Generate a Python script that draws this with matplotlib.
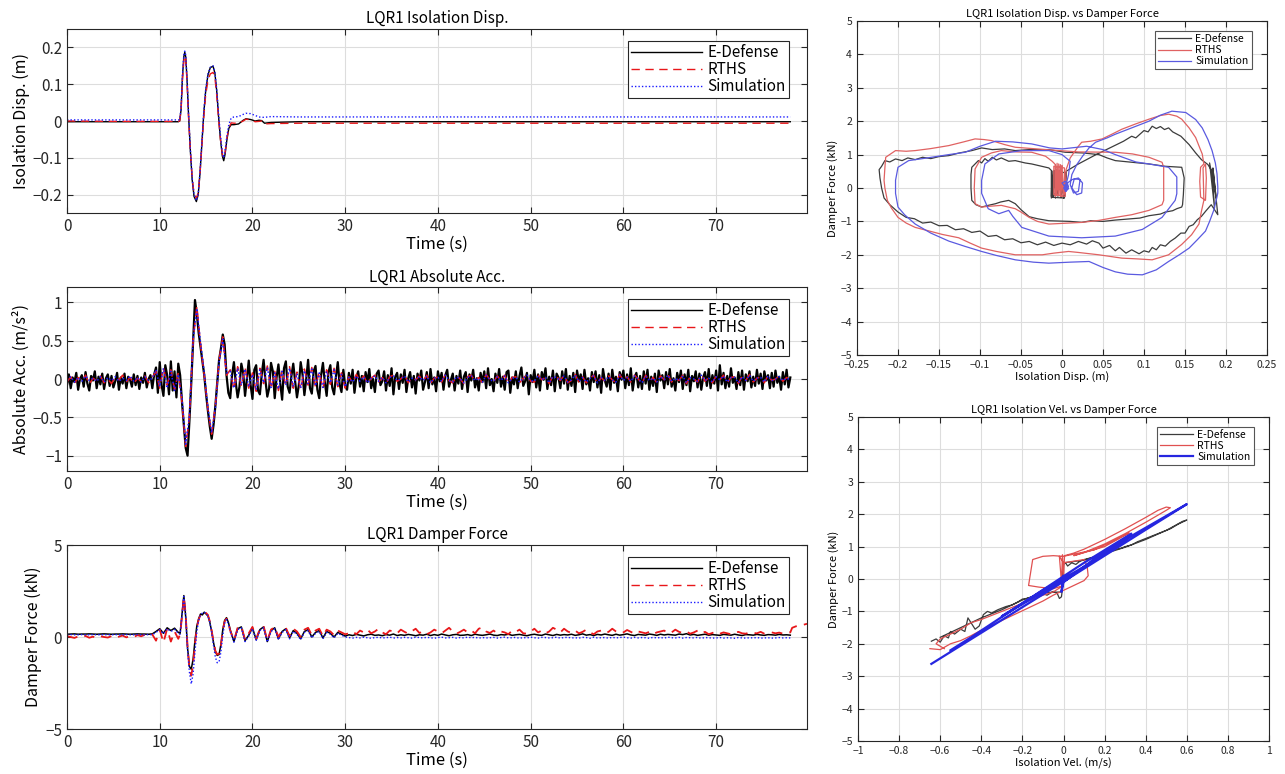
import matplotlib
matplotlib.use("Agg")
import matplotlib.pyplot as plt
import numpy as np

plt.rcParams['font.family'] = ['Noto Sans CJK JP', 'DejaVu Sans']

labels = ["E-Defense", "RTHS", "Simulation"]

# ---------------- Isolation displacement (m), points read from the record
disp_t = [0, 5, 12.0, 12.15, 12.3, 12.45, 12.6, 12.7, 12.8, 12.95,
          13.1, 13.3, 13.5, 13.7, 13.95, 14.15, 14.35, 14.55, 14.75, 14.95,
          15.2, 15.45, 15.75, 15.95, 16.15, 16.35, 16.55, 16.75, 16.9, 17.05,
          17.25, 17.45, 17.7, 18.0, 18.5, 19.0, 19.3, 19.8, 20.3, 20.7,
          21.0, 21.3, 22.0, 25.0, 30, 40, 50, 60, 70, 78]
disp_edef = [-0.002, -0.002, -0.002, 0.0, 0.03, 0.12, 0.175, 0.187, 0.175, 0.11,
             0.02, -0.08, -0.16, -0.205, -0.219, -0.2, -0.14, -0.06, 0.02, 0.08,
             0.125, 0.145, 0.149, 0.13, 0.08, 0.01, -0.05, -0.095, -0.108, -0.09,
             -0.05, -0.02, -0.01, -0.01, -0.008, 0.002, 0.006, 0.004, 0.0, 0.002,
             0.001, -0.006, -0.004, -0.002, -0.002, -0.002, -0.002, -0.002, -0.002, -0.002]
disp_rths = [0.0, -0.001, -0.001, 0.0, 0.028, 0.11, 0.165, 0.178, 0.168, 0.105,
             0.015, -0.08, -0.155, -0.198, -0.21, -0.195, -0.14, -0.065, 0.01, 0.07,
             0.11, 0.128, 0.132, 0.118, 0.07, 0.005, -0.05, -0.09, -0.1, -0.085,
             -0.045, -0.02, -0.005, -0.006, -0.006, 0.0, 0.005, 0.003, -0.002, -0.001,
             0.0, -0.008, -0.007, -0.006, -0.006, -0.006, -0.006, -0.006, -0.006, -0.006]
disp_sim = [0.003, 0.003, 0.003, 0.004, 0.035, 0.125, 0.18, 0.19, 0.18, 0.115,
            0.025, -0.075, -0.155, -0.2, -0.216, -0.198, -0.135, -0.055, 0.025, 0.085,
            0.128, 0.146, 0.15, 0.132, 0.085, 0.018, -0.04, -0.085, -0.1, -0.08,
            -0.04, -0.01, 0.008, 0.011, 0.012, 0.018, 0.021, 0.02, 0.015, 0.011,
            0.01, 0.01, 0.012, 0.011, 0.011, 0.011, 0.011, 0.011, 0.011, 0.011]

# ---------------- Absolute acceleration (x0.01 m/s2), read per segment
# E-Defense, dt = 0.2 s
acc_edef_pre = [-8, 6, -12, 2, -4, 8, -14, 0, 5, -10, 9, -6, -15, 4, -2, 10, -12, 3, -7, 7,
                -13, 1, 6, -9, 4, -11, -3, 8, -14, 2, -6, 7, -12, 3, -1, -10, 6, -8, 4, -13,
                2, -5, 8, -11, 0, 5, -12, 6, 15, -18, 22, -8, -22, 18, 5, -20, 23, -15, 10, -24,
                20, 5]
acc_edef_pulse = [-30, -60, -90, -100, -55, -5, 50, 103, 85, 60, 42, 25, 5, -20, -42, -62,
                  -78, -60, -35, -5, 25, 40, 58, 45, 5, -18]
acc_edef_mid = [-25, 5, 22, -5, -24, -10, 20, 8, -22, 0, 24, -8, -26, 12, 18, -15, -20, 6, 25, -2,
                -23, -12, 21, 10, -25, 2, 19, -6, -27, 14, 23, -10, -18, 4, 20, -3, -24, -8, 22, 6,
                -21, 0, 25, -12, -19, 10, 17, -14, -25, 5, 21, -4, -22, 9, 18, -11, -20, 3, 22, -7,
                -17, 12, -9]
acc_edef_post = [-14, 8, -6, 12, -18, 2, 10, -10, 4, -16, 9, -4, 13, -12, 0, -17, 7, 11, -8, -3,
                 10, -15, 5, -9, 14, -20, 3, 8, -13, 6, -5, 12, -17, 1, 9, -11, 4, -19, 7, -2,
                 11, -14, -4, 9, -12, 13, -7, 2, -16, 10, -3, 8, -14, 5, 12, -10, -1, 7, -15, 4,
                 -6, 11, -13, 3, 9, -17, 6, -2, 12, -11, 1, -15, 8, -4, 10, -12, 14, -8, 0, -16,
                 7, -5, 13, -10, 3, -14, 9, 11, -18, 2, -7, 10, -12, 4, 15, -9, -3, 8, -20, 5,
                 -4, 12, -11, 6, -15, 9, -1, 14, -13, 3, -8, 11, -16, 7, 2, -12, 10, -6, 13, -14,
                 4, -9, 8, -17, 11, -3, 6, -13, 12, -7, 1, -15, 9, -4, 10, -11, 5, -18, 13, -2,
                 -10, 7, -14, 12, -5, 3, -16, 9, -1, 11, -12, 6, -8, 14, -15, 2, 8, -11, 4, -13,
                 10, -6, 12, -14, 3, -9, 7, -17, 11, -2, 5, -12, 9, -7, 13, -10, 1, -15, 8, -4,
                 11, -13, 6, -8, 12, -16, 4, -3, 10, -11, 7, -14, 2, 9, -9, 13, -12, 5, -6, 11,
                 -15, 18, -7, 8, -12, 4, -10, 14, -5, 2, -13, 9, -8, 11, -14, 6, -3, 10, -11, 3,
                 -9, 12, -6, 7, -13, 10, -2, 5, -12, 8, -10, 11, -5, 3, -14, 9, -7, 12, -11, 2]
# RTHS and Simulation, dt = 0.4 s
acc_rths_pre = [-4, 3, -6, 2, -3, 5, -7, 1, -2, 4, -5, 0, -6, 3, -1, 5, -4, 2, -6, 1,
                -3, 4, -5, 2, 10, -12, 15, -8, 12, -14, 8]
acc_rths_pulse = [-30, -88, -50, 50, 95, 45, 5, -40, -72, -35, 25, 55, 5]
acc_rths_mid = [12, -14, 16, -10, 15, -12, 8, -16, 14, -6, 17, -13, 10, -15, 12, -9,
                16, -12, 9, -14, 13, -8, 15, -11, 10, -13, 12, -7, 14, -10, 8, -12]
acc_rths_post = [3, -5, 6, -2, 4, -6, 1, 5, -4, 2, -6, 3, 5, -3, 0, 6, -5, 2, -1, 4,
                 -3, 5, -6, 1, 3, -4, 6, -2, -5, 4, 0, -6, 3, 5, -3, 2, -5, 6, -1, -4,
                 4, -2, 5, -6, 2, 3, -5, 1, 6, -3, -4, 5, -1, 2, -6, 4, 3, -2, 5, -5,
                 -2, 6, -4, 3, -5, 1, 5, -6, 2, -3, 4, -1, -5, 6, -2, 3, -4, 5, 0, -6,
                 5, -3, 2, -5, 4, -1, 6, -4, 1, -2, 5, -6, 3, 0, -4, 6, -3, 2, -5, 4,
                 -1, 5, -5, 2, 3, -6, 4, -2, 6, -4, 1, 3, -5, 5, -2, 0, 4, -3, 2, -1]
acc_sim_pre = [-2, 3, -4, 2, -3, 4, -2, 1, -3, 3, -4, 2, -2, 3, -3, 1, -2, 4, -3, 2,
               -4, 3, -2, 1, 12, -10, 14, -12, 10, -15, 6]
acc_sim_pulse = [-25, -85, -48, 52, 92, 48, 8, -38, -70, -38, 22, 52, 8]
acc_sim_mid = [10, -12, 14, -8, 13, -10, 6, -14, 12, -5, 15, -11, 8, -13, 10, -8,
               14, -10, 7, -12, 11, -6, 13, -9, 8, -11, 10, -5, 12, -8, 6, -10]
acc_sim_post = [2, -4, 4, -3, 3, -5, 1, 4, -3, 2, -5, 2, 4, -2, 0, 4, -4, 1, -1, 3,
                -2, 4, -5, 1, 2, -3, 5, -2, -4, 3, 0, -5, 2, 4, -2, 1, -4, 5, -1, -3,
                3, -2, 4, -5, 1, 2, -4, 1, 5, -2, -3, 4, -1, 2, -5, 3, 2, -2, 4, -4,
                -1, 5, -3, 2, -4, 1, 4, -5, 2, -2, 3, -1, -4, 5, -2, 2, -3, 4, 0, -5,
                4, -2, 1, -4, 3, -1, 5, -3, 1, -2, 4, -5, 2, 0, -3, 5, -2, 1, -4, 3,
                -1, 4, -4, 2, 2, -5, 3, -2, 5, -3, 1, 2, -4, 4, -2, 0, 3, -2, 1, -1]

# ---------------- Damper force (x0.01 kN), read per segment
df_edef_pre = [15, 16, 17, 15, 16, 16, 17, 16, 15, 16, 17, 16, 15, 16, 16, 17, 16, 15, 16, 17,
               16, 16, 15, 17, 30, 45, 20, 50, 35, 48, 25]
df_edef_pulse = [20, 120, 225, 110, -60, -160, -175, -120, -20, 60, 100, 125, 120, 135,
                 125, 115, 80, 30, -30, -80, -100, -95, -40, 40, 90, 105, 80, 40]
df_edef_mid = [-25, 45, 55, -20, 10, 50, -15, 40, 55, -25, 35, 50, -10, 30, 45, -5,
               35, 20, -10, 30, 40, 0, 25, 35, -5, 30, 20, 0, 25, 15, 5]
df_edef_post = [12, 8, 14, 10, 6, 12, 15, 9, 11, 7, 13, 10, 16, 8, 12, 9, 14, 11, 7, 12,
                10, 15, 8, 13, 9, 16, 11, 7, 12, 14, 9, 10, 13, 8, 15, 11, 9, 12, 16, 10,
                8, 13, 11, 15, 9, 12, 14, 10, 7, 12, 15, 11, 9, 16, 12, 8, 14, 10, 13, 11,
                15, 9, 12, 17, 10, 13, 8, 14, 11, 16, 12, 9, 15, 10, 13, 17, 11, 8, 14, 12,
                10, 16, 13, 9, 15, 11, 14, 12, 10, 16, 13, 18, 11, 14, 9, 12, 15, 10, 13, 11,
                9, 14, 12, 10, 15, 11, 8, 13, 12, 10, 14, 11, 9, 13, 12, 10, 14, 11, 12, 10]
df_rths_pre = [5, 0, -5, 3, -2, 6, -4, 2, -6, 4, 0, -3, 5, -5, 2, 8, -2, 6, 0, 10,
               4, 12, 6, 14, -20, 40, -30, 45, -25, 30, -10]
df_rths_pulse = [15, 110, 220, 120, -50, -170, -210, -150, -40, 50, 95, 120, 130, 140,
                 130, 120, 85, 35, -25, -75, -95, -90, -45, 35, 85, 100, 75, 35]
df_rths_mid = [-20, 50, 60, -15, 20, 55, -10, 45, 60, -20, 40, 55, 0, 35, 50, 5,
               45, 30, 0, 40, 50, 10, 35, 45, 5, 40, 30, 10, 35, 25, 15]
df_rths_post = [20, 30, 15, 35, 25, 40, 20, 30, 45, 25, 15, 35, 30, 20, 40, 28, 18, 32, 45, 22,
                30, 15, 25, 40, 30, 20, 35, 50, 30, 18, 28, 40, 25, 35, 20, 45, 52, 30, 22, 35,
                20, 30, 25, 15, 35, 28, 40, 20, 18, 30, 45, 25, 35, 20, 30, 50, 40, 25, 45, 30,
                22, 35, 20, 28, 40, 25, 15, 30, 35, 22, 28, 45, 30, 20, 25, 38, 28, 18, 30, 25,
                20, 28, 15, 25, 30, 35, 20, 25, 40, 28, 22, 30, 18, 25, 35, 20, 28, 15, 22, 30,
                18, 25, 20, 15, 22, 28, 20, 18, 25, 22, 20, 28, 18, 22, 25, 20, 24, 18, 22, 25]
df_rths_end = [50, 58, 62, 66, 72]
df_sim_pre = [12, 13, 12, 12, 13, 12, 12, 13, 12, 12, 13, 12, 12, 13, 12, 12, 13, 12, 12, 13,
              12, 12, 13, 12, 25, 40, 18, 45, 30, 42, 20]
df_sim_pulse = [15, 115, 220, 115, -70, -190, -255, -200, -80, 30, 90, 120, 130, 135,
                128, 115, 80, 25, -45, -110, -140, -135, -80, 10, 75, 95, 70, 30]
df_sim_mid = [-28, 40, 50, -25, 5, 45, -18, 35, 50, -28, 30, 45, -15, 25, 40, -10,
              30, 15, -15, 25, 35, -5, 20, 30, -10, 25, 15, -5, 20, 10, 0]
df_sim_post = [-3, -6, -2, -5, -1, -4, -7, -3, -2, -5, -4, -1, -6, -3, -5, -2, -4, -6, -1, -3,
               -5, -2, -4, -7, -3, -1, -5, -4, -2, -6, -3, -5, -1, -4, -2, -6, -3, -5, -4, -2,
               -6, -3, -1, -5, -4, -2, -7, -3, -5, -1, -4, -6, -2, -3, -5, -4, -1, -6, -3, -2,
               -5, -4, -6, -2, -3, -7, -1, -5, -4, -3, -6, -2, -5, -3, -1, -4, -6, -2, -5, -3,
               -4, -7, -2, -5, -3, -6, -1, -4, -5, -2, -6, -3, -4, -5, -2, -7, -3, -4, -6, -5,
               -3, -6, -4, -5, -7, -3, -5, -6, -4, -5, -3, -6, -5, -4, -6, -5, -3, -5, -4, -5]

# ---------------- Hysteresis loops (disp m, force kN)
loop_disp_edef = [
    (-0.002, 0.0), (-0.013, -0.3), (-0.013, 0.5), (-0.011, -0.28), (-0.009, 0.52), (-0.008, -0.3),
    (-0.007, 0.55), (-0.005, -0.25), (-0.003, 0.52), (-0.001, -0.28), (0.0, 0.5), (0.002, -0.3),
    (0.004, -0.2), (0.005, 0.45), (-0.01, 0.52), (-0.012, -0.28), (0.003, -0.3), (0.005, 0.5),
    (0.02, 0.72), (0.04, 0.98), (0.06, 1.22), (0.075, 1.4), (0.085, 1.55), (0.09, 1.5), (0.1, 1.72),
    (0.105, 1.68), (0.11, 1.85), (0.115, 1.78), (0.12, 1.84), (0.125, 1.75), (0.13, 1.8),
    (0.135, 1.68), (0.145, 1.55), (0.155, 1.3), (0.163, 1.05), (0.17, 0.85), (0.178, 0.7),
    (0.183, 0.5), (0.186, -0.6), (0.18, 0.75), (0.188, -0.3), (0.184, 0.6), (0.19, -0.8),
    (0.182, -0.5), (0.175, -0.7), (0.17, -0.85), (0.165, -0.95), (0.16, -1.1), (0.155, -1.15),
    (0.15, -1.35), (0.145, -1.35), (0.138, -1.5), (0.132, -1.6), (0.126, -1.74), (0.12, -1.7),
    (0.115, -1.85), (0.11, -1.78), (0.106, -1.92), (0.1, -1.88), (0.094, -1.97), (0.085, -1.85),
    (0.078, -1.95), (0.07, -1.78), (0.065, -1.88), (0.058, -1.72), (0.05, -1.8), (0.045, -1.65),
    (0.037, -1.58), (0.03, -1.68), (0.02, -1.6), (0.01, -1.7), (0.0, -1.65), (-0.01, -1.72),
    (-0.02, -1.62), (-0.03, -1.7), (-0.04, -1.6), (-0.05, -1.64), (-0.06, -1.52), (-0.07, -1.55),
    (-0.08, -1.42), (-0.09, -1.45), (-0.1, -1.29), (-0.11, -1.33), (-0.12, -1.22), (-0.13, -1.25),
    (-0.14, -1.12), (-0.15, -1.13), (-0.16, -1.02), (-0.17, -1.05), (-0.18, -0.92), (-0.19, -0.88),
    (-0.2, -0.72), (-0.21, -0.5), (-0.217, -0.3), (-0.22, 0.0), (-0.222, 0.3), (-0.223, 0.55),
    (-0.22, 0.65), (-0.216, 0.82), (-0.21, 0.78), (-0.203, 0.87), (-0.195, 0.82), (-0.188, 0.9),
    (-0.179, 0.85), (-0.17, 0.92), (-0.16, 0.88), (-0.15, 0.94), (-0.138, 0.97), (-0.125, 1.05),
    (-0.11, 1.12), (-0.098, 1.2), (-0.085, 1.15), (-0.07, 1.17), (-0.057, 1.12), (-0.04, 1.15),
    (-0.016, 1.15), (0.004, 1.07), (0.025, 1.05), (0.045, 1.0), (0.055, 0.9), (0.065, 0.82),
    (0.085, 0.77), (0.106, 0.72), (0.126, 0.65), (0.146, 0.62), (0.149, 0.3), (0.148, -0.2),
    (0.147, -0.5), (0.146, -0.57), (0.14, -0.62), (0.135, -0.68), (0.126, -0.72), (0.12, -0.78),
    (0.106, -0.83), (0.095, -0.9), (0.08, -0.93), (0.065, -0.96), (0.05, -1.0), (0.035, -0.98),
    (0.024, -1.03), (0.01, -1.0), (-0.016, -0.98), (-0.03, -0.92), (-0.04, -0.86), (-0.05, -0.65),
    (-0.057, -0.47), (-0.065, -0.37), (-0.075, -0.42), (-0.081, -0.47), (-0.09, -0.52),
    (-0.098, -0.57), (-0.105, -0.5), (-0.11, -0.37), (-0.111, 0.0), (-0.111, 0.4), (-0.11, 0.62),
    (-0.106, 0.72), (-0.102, 0.82), (-0.098, 0.75), (-0.094, 0.88), (-0.09, 0.8), (-0.085, 0.92),
    (-0.08, 0.84), (-0.074, 0.9), (-0.065, 0.8), (-0.057, 0.82), (-0.045, 0.75), (-0.037, 0.72),
    (-0.025, 0.65), (-0.016, 0.6), (-0.012, 0.5), (-0.013, -0.25), (-0.005, 0.5), (0.002, -0.2),
    (0.004, 0.4)]
loop_disp_rths = [
    (-0.008, -0.25), (-0.008, 0.7), (-0.006, -0.22), (-0.006, 0.74), (-0.004, -0.2),
    (-0.004, 0.72), (-0.002, -0.25), (-0.002, 0.7), (0.0, -0.25), (0.0, 0.68), (0.002, -0.2),
    (0.003, -0.15), (0.003, 0.6), (-0.01, 0.65), (-0.01, -0.2), (0.004, -0.25), (0.005, 0.55),
    (0.01, 0.9), (0.02, 1.25), (0.024, 1.37), (0.035, 1.4), (0.049, 1.47), (0.06, 1.6),
    (0.073, 1.76), (0.09, 1.92), (0.106, 2.06), (0.12, 2.17), (0.13, 2.21), (0.14, 2.15),
    (0.146, 2.06), (0.155, 1.8), (0.163, 1.51), (0.168, 1.2), (0.171, 1.02), (0.173, 0.72),
    (0.169, 0.62), (0.168, 0.2), (0.169, -0.27), (0.175, -0.37), (0.176, 0.3), (0.175, 0.72),
    (0.172, 0.6), (0.173, -0.37), (0.17, -0.7), (0.167, -1.08), (0.158, -1.4), (0.146, -1.69),
    (0.13, -2.0), (0.11, -2.15), (0.09, -2.12), (0.073, -2.1), (0.045, -2.0), (0.02, -1.93),
    (0.008, -1.9), (-0.01, -1.95), (-0.024, -2.0), (-0.057, -2.0), (-0.08, -1.9), (-0.098, -1.8),
    (-0.112, -1.65), (-0.126, -1.49), (-0.146, -1.39), (-0.16, -1.3), (-0.179, -1.18),
    (-0.19, -1.05), (-0.2, -0.88), (-0.208, -0.6), (-0.213, -0.37), (-0.216, 0.0), (-0.217, 0.23),
    (-0.216, 0.6), (-0.215, 0.92), (-0.203, 1.12), (-0.19, 1.1), (-0.179, 1.12), (-0.16, 1.18),
    (-0.138, 1.27), (-0.12, 1.38), (-0.106, 1.47), (-0.095, 1.45), (-0.086, 1.42), (-0.07, 1.3),
    (-0.057, 1.22), (-0.02, 1.15), (0.02, 1.08), (0.065, 1.07), (0.086, 1.02), (0.106, 0.92),
    (0.122, 0.77), (0.124, 0.62), (0.124, -0.37), (0.122, -0.5), (0.106, -0.67), (0.085, -0.8),
    (0.065, -0.88), (0.045, -0.97), (0.024, -1.03), (0.0, -1.06), (-0.016, -1.08), (-0.03, -1.0),
    (-0.04, -0.88), (-0.05, -0.72), (-0.057, -0.62), (-0.074, -0.52), (-0.09, -0.55),
    (-0.098, -0.57), (-0.106, -0.47), (-0.107, 0.0), (-0.106, 0.57), (-0.098, 0.92),
    (-0.086, 1.05), (-0.074, 1.12), (-0.055, 1.08), (-0.037, 1.07), (-0.02, 0.95), (-0.012, 0.8),
    (-0.008, 0.7), (-0.008, -0.2), (0.0, 0.65)]
loop_disp_sim = [
    (0.005, 0.0), (0.0, 0.15), (0.004, 0.2), (0.008, 0.05), (0.005, -0.1), (0.002, 0.0),
    (0.006, 0.1), (0.003, -0.05), (0.007, 0.12), (0.004, -0.1), (0.008, -0.02), (0.003, 0.08),
    (0.012, 0.25), (0.02, 0.3), (0.025, 0.15), (0.024, -0.15), (0.018, -0.2),
    (0.012, 0.0), (0.015, 0.28), (0.022, 0.25), (0.02, -0.1), (0.014, -0.15), (0.01, 0.1),
    (0.012, 0.4), (0.018, 0.7), (0.025, 0.95), (0.033, 1.2), (0.041, 1.37), (0.055, 1.5),
    (0.065, 1.61), (0.085, 1.8), (0.106, 2.0), (0.12, 2.18), (0.134, 2.3), (0.151, 2.26),
    (0.163, 2.05), (0.171, 1.8), (0.178, 1.45), (0.183, 1.12), (0.187, 0.75), (0.189, 0.43),
    (0.19, 0.03), (0.19, -0.15), (0.189, -0.27), (0.185, -0.67), (0.18, -1.0), (0.175, -1.29),
    (0.165, -1.55), (0.155, -1.8), (0.143, -2.0), (0.13, -2.2), (0.115, -2.45), (0.098, -2.6),
    (0.08, -2.58), (0.065, -2.51), (0.05, -2.38), (0.033, -2.2), (0.01, -2.22), (-0.016, -2.25),
    (-0.035, -2.22), (-0.057, -2.15), (-0.08, -2.02), (-0.098, -1.9), (-0.118, -1.75),
    (-0.138, -1.59), (-0.16, -1.35), (-0.179, -1.08), (-0.192, -0.8), (-0.2, -0.57),
    (-0.203, -0.16), (-0.203, 0.23), (-0.2, 0.62), (-0.187, 0.82), (-0.17, 0.88), (-0.159, 0.92),
    (-0.138, 1.0), (-0.118, 1.07), (-0.1, 1.25), (-0.081, 1.4), (-0.06, 1.38), (-0.037, 1.32),
    (-0.015, 1.2), (0.0, 1.17), (0.03, 1.25), (0.05, 1.15), (0.065, 1.0), (0.09, 0.78),
    (0.106, 0.72), (0.13, 0.62), (0.14, 0.33), (0.14, -0.17), (0.138, -0.37), (0.122, -0.88),
    (0.098, -1.24), (0.065, -1.44), (0.024, -1.49), (-0.016, -1.44), (-0.049, -1.18),
    (-0.06, -0.85), (-0.065, -0.67), (-0.077, -0.77), (-0.09, -0.62), (-0.098, -0.16),
    (-0.098, 0.23), (-0.094, 0.72), (-0.077, 1.02), (-0.049, 1.12), (-0.016, 1.12), (0.0, 1.0),
    (0.01, 0.8), (0.008, 0.4), (0.005, 0.1)]

# ---------------- Hysteresis loops (vel m/s, force kN)
loop_vel_edef = [
    (-0.643, -1.92), (-0.62, -1.85), (-0.6, -1.95), (-0.58, -1.75), (-0.56, -1.82), (-0.55, -1.62),
    (-0.53, -1.7), (-0.5, -1.55), (-0.48, -1.62), (-0.465, -1.2), (-0.45, -1.35), (-0.43, -1.55),
    (-0.41, -1.45), (-0.39, -1.1), (-0.37, -1.0), (-0.35, -1.05), (-0.32, -0.95), (-0.3, -0.9),
    (-0.28, -0.85), (-0.25, -0.8), (-0.22, -0.7), (-0.2, -0.62), (-0.18, -0.6), (-0.15, -0.55),
    (-0.12, -0.5), (-0.1, -0.45), (-0.08, -0.5), (-0.05, -0.38), (-0.03, -0.45), (-0.02, -0.6),
    (-0.01, -0.55), (-0.005, -0.3), (-0.003, 0.2), (0.0, 0.45), (0.01, 0.5), (0.02, 0.4),
    (0.04, 0.5), (0.06, 0.45), (0.08, 0.55), (0.1, 0.6), (0.13, 0.65), (0.16, 0.7), (0.2, 0.8),
    (0.24, 0.9), (0.28, 0.95), (0.3, 1.0), (0.33, 1.05), (0.36, 1.15), (0.4, 1.25), (0.44, 1.35),
    (0.48, 1.45), (0.52, 1.55), (0.56, 1.7), (0.6, 1.82), (0.58, 1.78), (0.5, 1.5), (0.4, 1.22),
    (0.3, 0.98), (0.2, 0.78), (0.1, 0.58), (0.0, 0.5), (-0.01, -0.4), (-0.1, -0.42),
    (-0.2, -0.65), (-0.3, -0.95), (-0.4, -1.2), (-0.5, -1.5), (-0.6, -1.8)]
loop_vel_rths = [
    (-0.65, -2.15), (-0.6, -2.18), (-0.55, -2.0), (-0.5, -1.9), (-0.45, -1.75), (-0.4, -1.58),
    (-0.3, -1.28), (-0.2, -0.98), (-0.1, -0.68), (-0.05, -0.5), (0.0, -0.35), (0.05, -0.2),
    (0.1, -0.05), (0.12, 0.1), (0.115, 0.4), (0.1, 0.6), (0.05, 0.55), (0.0, 0.5), (-0.02, 0.7),
    (-0.01, -0.1), (-0.005, 0.75), (0.0, 0.0), (0.005, 0.72), (0.05, 0.8), (0.1, 0.92),
    (0.2, 1.22), (0.3, 1.55), (0.4, 1.9), (0.46, 2.12), (0.5, 2.22), (0.52, 2.2), (0.5, 2.12),
    (0.4, 1.75), (0.3, 1.4), (0.2, 1.08), (0.1, 0.82), (0.05, 0.72), (0.2, 1.0), (0.3, 1.35),
    (0.32, 1.42), (0.25, 1.2), (0.15, 0.9), (0.0, 0.7), (-0.05, 0.72), (-0.1, 0.7), (-0.15, 0.6),
    (-0.17, -0.2), (-0.12, -0.25), (-0.05, -0.3), (0.0, -0.2), (-0.05, -0.4), (-0.1, -0.5),
    (-0.2, -0.75), (-0.3, -1.0), (-0.4, -1.25), (-0.45, -1.35), (-0.5, -1.55), (-0.55, -1.7),
    (-0.6, -1.85), (-0.62, -2.0), (-0.58, -2.15)]
loop_vel_sim = [
    (-0.643, -2.62), (-0.4, -1.66), (-0.2, -0.87), (0.0, -0.08), (0.2, 0.72), (0.4, 1.52),
    (0.6, 2.31), (0.35, 1.4), (0.15, 0.62), (0.0, -0.1), (-0.01, -0.4), (0.0, 0.1), (0.02, 0.05),
    (-0.3, -1.15), (-0.1, -0.35), (0.1, 0.38), (0.3, 1.18), (0.33, 1.4), (0.1, 0.5), (-0.2, -0.75),
    (-0.45, -1.8), (-0.55, -2.2)]


def stitch(*segments):
    ts, vs = [], []
    for start, dt, vals in segments:
        ts.append(start + dt * np.arange(len(vals)))
        vs.append(np.array(vals) / 100.0)
    return np.concatenate(ts), np.concatenate(vs)


acc_series = [
    stitch((0.0, 0.2, acc_edef_pre), (12.4, 0.2, acc_edef_pulse),
           (17.6, 0.2, acc_edef_mid), (30.2, 0.2, acc_edef_post)),
    stitch((0.0, 0.4, acc_rths_pre), (12.4, 0.4, acc_rths_pulse),
           (17.6, 0.4, acc_rths_mid), (30.4, 0.4, acc_rths_post)),
    stitch((0.0, 0.4, acc_sim_pre), (12.4, 0.4, acc_sim_pulse),
           (17.6, 0.4, acc_sim_mid), (30.4, 0.4, acc_sim_post)),
]
df_series = [
    stitch((0.0, 0.4, df_edef_pre), (12.2, 0.2, df_edef_pulse),
           (18.0, 0.4, df_edef_mid), (30.4, 0.4, df_edef_post)),
    stitch((0.0, 0.4, df_rths_pre), (12.2, 0.2, df_rths_pulse),
           (18.0, 0.4, df_rths_mid), (30.4, 0.4, df_rths_post), (78.2, 0.4, df_rths_end)),
    stitch((0.0, 0.4, df_sim_pre), (12.2, 0.2, df_sim_pulse),
           (18.0, 0.4, df_sim_mid), (30.4, 0.4, df_sim_post)),
]
disp_series = [(np.array(disp_t), np.array(disp_edef)),
               (np.array(disp_t), np.array(disp_rths)),
               (np.array(disp_t), np.array(disp_sim))]

W, H = 1285, 774
fig = plt.figure(figsize=(W / 100, H / 100), dpi=100)


def px_axes(left, top, right, bottom):
    return fig.add_axes([left / W, 1 - bottom / H, (right - left) / W, (bottom - top) / H])


def matlab_style(ax, fs):
    ax.tick_params(direction='in', top=True, right=True, length=4, width=0.8,
                   labelsize=fs, colors='#262626')
    ax.grid(True, color='#dddddd', linewidth=0.8)
    ax.set_axisbelow(True)
    for s in ax.spines.values():
        s.set_color('#262626')
        s.set_linewidth(0.8)


left_styles = [dict(color='black', ls='-'),
               dict(color='#e8171a', ls=(0, (6, 4))),
               dict(color='#1a1aff', ls=(0, (1, 1.5)))]

panels = [
    (29, 213, disp_series, (-0.25, 0.25), [-0.2, -0.1, 0, 0.1, 0.2], ['−0.2', '−0.1', '0', '0.1', '0.2'],
     "LQR1 Isolation Disp.", "Isolation Disp. (m)", [1.0, 1.0, 1.0]),
    (287, 471, acc_series, (-1.2, 1.2), [-1, -0.5, 0, 0.5, 1], ['−1', '−0.5', '0', '0.5', '1'],
     "LQR1 Absolute Acc.", "Absolute Acc. (m/s²)", [1.6, 1.1, 1.1]),
    (545, 729, df_series, (-5, 5), [-5, 0, 5], ['−5', '0', '5'],
     "LQR1 Damper Force", "Damper Force (kN)", [1.1, 1.3, 1.0]),
]

for top, bottom, series, ylim, yt, ytl, title, ylabel, widths in panels:
    ax = px_axes(67, top, 807, bottom)
    matlab_style(ax, 11)
    for (t, v), st, lab, lw in zip(series, left_styles, labels, widths):
        ax.plot(t, v, label=lab, lw=lw, **st)
    ax.set_xlim(0, 79.8)
    ax.set_ylim(*ylim)
    ax.set_xticks([0, 10, 20, 30, 40, 50, 60, 70])
    ax.set_yticks(yt)
    ax.set_yticklabels(ytl)
    ax.set_title(title, fontsize=11, pad=4)
    ax.set_xlabel("Time (s)", fontsize=12, labelpad=1)
    ax.set_ylabel(ylabel, fontsize=11.5, labelpad=2)
    leg = ax.legend(loc='upper right', bbox_to_anchor=(0.9757, 0.935), fontsize=11,
                    handlelength=4.6, handletextpad=0.4, borderpad=0.2, labelspacing=0.0,
                    fancybox=False, framealpha=1, edgecolor='#262626', borderaxespad=0)
    leg.get_frame().set_linewidth(0.8)
    for line in leg.get_lines():
        line.set_linewidth(1.0)

right_colors = ['#3c3c3c', '#e06262', '#5a5ae0']

# Isolation disp vs damper force
ax4 = px_axes(857, 21, 1267, 355)
matlab_style(ax4, 7.5)
for loop, c, lab in zip([loop_disp_edef, loop_disp_rths, loop_disp_sim], right_colors, labels):
    p = np.array(loop)
    ax4.plot(p[:, 0], p[:, 1], color=c, lw=0.9, label=lab)
ax4.set_xlim(-0.25, 0.25)
ax4.set_ylim(-5, 5)
ax4.set_xticks(np.arange(-0.25, 0.26, 0.05))
ax4.set_xticklabels(['−0.25', '−0.2', '−0.15', '−0.1', '−0.05', '0', '0.05', '0.1', '0.15', '0.2', '0.25'])
ax4.set_yticks(range(-5, 6))
ax4.set_yticklabels(['−5', '−4', '−3', '−2', '−1', '0', '1', '2', '3', '4', '5'])
ax4.set_title("LQR1 Isolation Disp. vs Damper Force", fontsize=8, pad=3)
ax4.set_xlabel("Isolation Disp. (m)", fontsize=8, labelpad=1)
ax4.set_ylabel("Damper Force (kN)", fontsize=8, labelpad=2)
leg = ax4.legend(loc='upper right', bbox_to_anchor=(0.963, 0.97), fontsize=7.5,
                 handlelength=3.2, handletextpad=0.4, borderpad=0.3, labelspacing=0.1,
                 fancybox=False, framealpha=1, edgecolor='#555555', borderaxespad=0)
leg.get_frame().set_linewidth(0.8)

# Isolation vel vs damper force
ax5 = px_axes(858, 417, 1269, 741)
matlab_style(ax5, 7.5)
for loop, c, lab, lw in zip([loop_vel_edef, loop_vel_rths, loop_vel_sim],
                            ['#3c3c3c', '#e05050', '#2626e0'], labels, [0.9, 0.9, 1.6]):
    p = np.array(loop)
    ax5.plot(p[:, 0], p[:, 1], color=c, lw=lw, label=lab)
ax5.set_xlim(-1, 1)
ax5.set_ylim(-5, 5)
ax5.set_xticks(np.arange(-1, 1.01, 0.2))
ax5.set_xticklabels(['−1', '−0.8', '−0.6', '−0.4', '−0.2', '0', '0.2', '0.4', '0.6', '0.8', '1'])
ax5.set_yticks(range(-5, 6))
ax5.set_yticklabels(['−5', '−4', '−3', '−2', '−1', '0', '1', '2', '3', '4', '5'])
ax5.set_title("LQR1 Isolation Vel. vs Damper Force", fontsize=8, pad=3)
ax5.set_xlabel("Isolation Vel. (m/s)", fontsize=8, labelpad=1)
ax5.set_ylabel("Damper Force (kN)", fontsize=8, labelpad=2)
leg = ax5.legend(loc='upper right', bbox_to_anchor=(0.963, 0.97), fontsize=7.5,
                 handlelength=3.2, handletextpad=0.4, borderpad=0.3, labelspacing=0.1,
                 fancybox=False, framealpha=1, edgecolor='#555555', borderaxespad=0)
leg.get_frame().set_linewidth(0.8)

fig.savefig("out.png", dpi=100)
